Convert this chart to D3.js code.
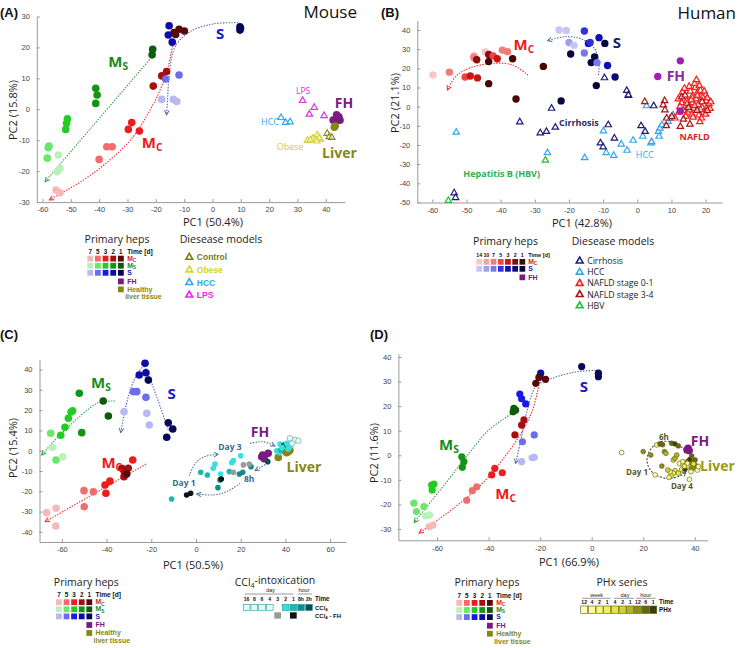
<!DOCTYPE html>
<html>
<head>
<meta charset="utf-8">
<script src="https://cdn.jsdelivr.net/npm/d3@7"></script>
<style>
  body { margin: 0; background: #fff; }
  text { font-family: "Open Sans", Arial, sans-serif; }
</style>
</head>
<body>
<svg id="fig" width="738" height="648"></svg>
<script>
// ---------- palettes ----------
// mouse primary heps, days 7,5,3,2,1
const mouseMcColors = ["#f7b8b8", "#f26c6c", "#ee1c1c", "#a50f0f", "#5a0808"]
const mouseMsColors = ["#b8f2b8", "#6ae66a", "#22cc22", "#149414", "#0c5c0c"]
const mouseSColors = ["#b8b8f4", "#6c6cee", "#1818e8", "#0c0ca8", "#08085a"]
const mouseDays = ["7", "5", "3", "2", "1"]
// human primary heps, days 14,10,7,5,3,2,1
const humanMcColors = ["#f9c6c6", "#f5a3a3", "#f07b7b", "#eb4545", "#cc1414", "#8a0b0b", "#4a0505"]
const humanSColors = ["#c6c6f5", "#a0a0f0", "#7878ec", "#3030e0", "#1010b5", "#0a0a7c", "#060640"]
const humanDays = ["14", "10", "7", "5", "3", "2", "1"]
const fhColor = "#7a1a80"
const liverColor = "#868616"

// ---------- panel A: mouse ----------
const aXTicks = [-60, -50, -40, -30, -20, -10, 0, 10, 20, 30, 40]
const aYTicks = [-30, -20, -10, 0, 10, 20, 30]
// [PC1, PC2, shade index]
const aMc = [[-13, 24.2, 4], [-11.8, 25.9, 4], [-9.9, 25.3, 4], [-13.6, 24.8, 4],
  [-17.9, 10.8, 3], [-16.2, 12.2, 3], [-20.9, 7.5, 3],
  [-29.7, -6.5, 2], [-28.5, -4.3, 2], [-25.8, -7, 2],
  [-37.3, -12.1, 1], [-35.4, -12.1, 1], [-40, -16.2, 1],
  [-55.2, -26.1, 0], [-53.8, -27, 0]]
const aMs = [[-21.1, 19.4, 4], [-21.3, 17.6, 4],
  [-41.2, 6.8, 3], [-40.7, 4.6, 3], [-41.2, 1.9, 3],
  [-51.2, -3.1, 2], [-51.5, -4.5, 2], [-51.8, -6.5, 2],
  [-57.7, -11.9, 1], [-58, -12.4, 1], [-58.3, -15.8, 1],
  [-54.4, -14.8, 0], [-53.8, -19.1, 0], [-54.8, -20.2, 0]]
const aS = [[9.7, 26.7, 4], [9.7, 25.6, 4], [9.9, 26.2, 4],
  [-15.3, 27, 3], [-15.6, 24, 3], [-14.2, 21.7, 3],
  [-11.8, 11.1, 1], [-16.5, 9.8, 1],
  [-17.9, 3.2, 0], [-13.8, 3.2, 0], [-12.6, 2.5, 0]]
const aFH = [[43.8, -1.8], [43.8, -2.9], [42.6, -3.5], [45, -3.5], [43.6, -3.9], [44.6, -2.4]]
const aLiver = [[43, -5.8], [43.3, -5.4]]
const aLPS = [[31.8, 2.8], [35.9, 0.6], [34.2, -1.6], [39.4, -2.1]]
const aHCC = [[24.2, -2.7], [25.8, -4.3], [27.4, -4.1]]
const aObese = [[33.5, -10.1], [35.4, -9.4], [37, -8.3], [38, -9.7], [36.2, -9.8], [34.5, -9.9], [37.6, -9.2], [36.8, -10.3]]
const aControl = [[40.5, -7.8], [41.2, -8.9], [42.1, -9.1]]

// ---------- panel B: human ----------
const bXTicks = [-60, -50, -40, -30, -20, -10, 0, 10, 20]
const bYTicks = [-50, -40, -30, -20, -10, 0, 10, 20, 30, 40]
const bMc = [[-59.8, 16.5, 0], [-55, 18, 2], [-50.4, 15.5, 3], [-48.9, 16, 4], [-46.8, 15, 4],
  [-47.8, 26.5, 1], [-47.8, 25.5, 2], [-44.5, 28.5, 0], [-43.2, 26.5, 4], [-43.5, 27.2, 5],
  [-43.5, 23.5, 6], [-42.2, 26.5, 3], [-41, 25, 4], [-39.5, 29.5, 2], [-38, 28.7, 2],
  [-47, 24.5, 5], [-36.5, 25, 6], [-43.5, 12, 6], [-35.5, 4, 6], [-27.5, 21, 6]]
const bS = [[-22.9, 40, 0], [-20.8, 39.7, 0], [-20, 33.5, 1], [-18.5, 32, 0],
  [-15.5, 39.5, 3], [-15.5, 28, 2], [-14.3, 33, 4], [-13.8, 33.5, 3], [-11.2, 36, 4],
  [-9.5, 33, 6], [-19.5, 27.5, 6], [-13.5, 23, 6], [-12.5, 26, 6], [-11.8, 23, 2],
  [-8.7, 21.5, 4], [-6.5, 15.5, 5], [-12, 11, 6], [-22.3, 3, 6]]
const bFH = [[6, 15.7], [12.6, 23.9], [12.6, -2.3]]
const bCirrhosis = [[-25.1, -0.9], [-34.4, -8], [-24, -10.8], [-28.4, -13.7], [-26.6, -13],
  [-9.6, 15], [-3.1, 8.4], [-2.6, 5.8], [-8.5, -9.5], [-6.7, -16.5], [-10.8, -19], [-10, -21],
  [1.1, -10], [2.3, -13], [4.8, 0.4], [-2.6, 6.1], [-53.6, -45], [-53.2, -47.5]]
const bHCC = [[-53, -13.4], [-26.3, -24.1], [-15.4, -26.7], [-9.9, -12.7], [-9.1, -24], [-6.9, -25.5],
  [-4.7, -19.6], [-3, -22.8], [-1.2, -17.6], [1.6, -15.5], [4, -19], [2.7, 0.4], [6.2, -13],
  [6.4, -15.5], [6.6, -11.3], [9, -7.8], [9.6, -6.1], [10.5, -4.3], [4.2, -18.3], [7.2, -9.5]]
const bNafld01 = [[12, 4], [13, 2], [12.5, 0], [13.5, -2], [14.5, 3], [15, 0.5], [14.8, -3], [15.5, 8],
  [16, 5], [16.2, 2], [16.5, -1], [16, -4], [17, 10], [17.5, 7], [17.2, 4], [17.8, 1], [18, -4.5],
  [18.5, 8.5], [18.7, 5.5], [19, -0.5], [19.5, -3], [20, 6], [20.2, 3], [20.5, 0], [21, 1.5],
  [16.8, 12], [17.3, 14], [13.2, 7.5], [15.2, 10.5], [18.2, 11], [19.6, 8], [12.2, -3], [13.8, 9.5],
  [14.2, -5], [16.3, -5.5], [18.8, -6], [20, -4], [21.3, -1], [15.8, 3.5], [17.6, 5.8], [19.2, 4.8],
  [14.6, 1.5], [16.8, 0.5], [18.5, -1.5], [15.3, -1.8], [20.5, 4.5], [21.5, 2.5], [18.3, -7.9], [11, -6]]
const bNafld34 = [[2.2, 2.6], [8, 3.1], [7.6, 0.9], [8.1, -1.7], [8.6, -6], [8.5, -10], [12.6, -10.4],
  [15.4, -9.2], [13.5, -6.6], [10.1, -5.2], [13, 5], [15, -0.5], [17.5, -2], [19, 2.5], [14, 6], [20.5, -2]]
const bHBV = [[-26.9, -28], [-55.3, -49]]

// ---------- panel C: mouse + CCl4 ----------
const cXTicks = [-60, -40, -20, 0, 20, 40, 60]
const cYTicks = [-40, -30, -20, -10, 0, 10, 20, 30, 40]
const cMs = [[-41.5, 24.5, 4], [-39.2, 17.1, 4], [-52.2, 28.3, 3], [-51.1, 8.9, 3],
  [-55.2, 19.7, 2], [-55.9, 19.1, 2], [-57.1, 16, 2], [-58.6, 11.5, 2], [-60.5, 7.6, 2],
  [-65, 8.6, 1], [-62.6, -4.6, 1], [-64.2, 1.7, 0], [-59.6, -3, 0]]
const cS = [[-22.8, 43.1, 3], [-22.4, 38.4, 3], [-25.4, 37.3, 3], [-21.3, 34.8, 4],
  [-28, 29.1, 1], [-26.5, 29.1, 1], [-22.4, 26.3, 1],
  [-32.2, 19.2, 0], [-22, 18.4, 0], [-20.9, 12.7, 0],
  [-12.4, 13.8, 4], [-10.4, 10.7, 4], [-13.1, 6.6, 4]]
const cMc = [[-28.3, -4.6, 2], [-33.2, -8.7, 3], [-30.3, -8.7, 3], [-32.1, -10.3, 3], [-32.2, -12.8, 3],
  [-31, -11.5, 4], [-38.5, -15, 2], [-40.7, -16.9, 2], [-40.3, -21, 2],
  [-45.9, -20.2, 1], [-50.1, -19.7, 1], [-50, -27.6, 1],
  [-62.6, -28.4, 0], [-66.8, -30.5, 0], [-62.7, -37.1, 0]]
// CCl4 time series: 0 = day 16-4, 1 = day 2, 2 = day 1, 3 = 8h, 4 = 2h
const ccl4Colors = ["#e4fbfb", "#3adede", "#1cb6b6", "#128c8c", "#0a5050"]
const cCcl4 = [[-10.9, -23.8, 2], [2.1, -10.6, 2], [5.1, -12, 2], [7.7, -8.7, 1], [8.5, -6.6, 1],
  [11, -11.5, 1], [10.7, -14.4, 3], [9.8, -18.2, 3], [14.9, -10.3, 2], [16, -5.9, 1], [16.7, -4.9, 1],
  [20, -2.5, 1], [19.4, -11.5, 3], [20.9, -10.6, 3], [24.6, -7.9, 3], [32.1, -5.4, 4],
  [37.6, 3.3, 1], [39.4, 2.8, 4], [36.1, 0, 1], [37.3, -1, 1], [37.8, 0.3, 2], [40.6, 3.6, 1],
  [42, 2, 1], [41.2, 0.8, 1], [38.5, 1.5, 1], [42, 6.1, 0], [44.3, 5.3, 0], [45.8, 4.9, 0], [43, 3.5, 0]]
const ccl4FhColors = ["#9a9a9a", "#111111"]
const cCcl4Fh = [[-4.2, -21.8, 1], [-2.4, -21, 1], [11.3, -14, 1], [16.7, -10.6, 0], [21.2, -7, 0], [23.8, -6.6, 0]]
const cFH = [[29.4, -3], [30.5, -4], [32.3, -1.3], [29.8, -2.2]]
const cLiver = [[41.3, -0.5], [36.8, -3.3], [39.8, 0], [40.5, -1], [42, 0.2]]
const ccl4Times = ["16", "8", "6", "4", "3", "2", "1", "8h", "2h"]

// ---------- panel D: mouse + PHx ----------
const dXTicks = [-60, -40, -20, 0, 20, 40]
const dYTicks = [-30, -20, -10, 0, 10, 20, 30, 40]
const dMs = [[-30.2, 19.1, 4], [-29.5, 18.4, 4], [-30.5, 17.7, 4],
  [-50.4, -0.6, 3], [-49.6, -2.6, 3], [-50.2, -4.9, 3],
  [-62.1, -12.1, 2], [-61.9, -14.1, 2], [-61.2, -11.7, 2],
  [-69, -19.5, 1], [-68, -22.9, 1], [-65.1, -20.9, 1], [-64.4, -24.7, 0], [-62.9, -24.3, 0]]
const dS = [[-3.9, 36.1, 4], [2.6, 33.4, 4], [2.6, 32, 4],
  [-19.8, 33.4, 3], [-20.1, 32, 3], [-27.9, 24.9, 2], [-27.2, 23, 2], [-25.6, 20.9, 2],
  [-26.9, 5.5, 1], [-22.3, 8.3, 1], [-27.2, -2.6, 0], [-23.1, -1, 0], [-22.3, -0.8, 0]]
const dMc = [[-21.7, 29.3, 4], [-17.9, 30.9, 4], [-20.5, 31.7, 4],
  [-26.3, 14.4, 3], [-27.2, 12.3, 3], [-29.8, 8.3, 3],
  [-37.6, -5.3, 2], [-38.8, -8, 2], [-34.7, -7.1, 2],
  [-44.6, -12.8, 1], [-46.3, -14.4, 1], [-48.5, -18.3, 1],
  [-63.1, -29.1, 0], [-61.6, -28.4, 0]]
// PHx series: 12,4,2,1 week / 4,2,1 day / 12,6,1 hour
const phxColors = ["#fdfdb8", "#fbfb98", "#f6f67a", "#f0f05a", "#e6e63c", "#d4d42a", "#b4b420", "#8e8e18", "#666610", "#3c3c08"]
const phxTimes = ["12", "4", "2", "1", "4", "2", "1", "12", "6", "1"]
const dPhx = [[11.6, 1.1, 0], [20, 1.5, 7], [22.9, 0.1, 7], [27.2, -4.4, 7], [25.2, 4.2, 2], [26.5, 4.6, 8],
  [27.5, 4.3, 8], [28.2, 1.5, 7], [28.8, 0.8, 6], [31, 4.9, 8], [32.3, 4.6, 9], [33.6, 3.8, 8],
  [31.7, -1.9, 5], [32.3, -1.2, 6], [34, -3.3, 1], [35.5, -3.9, 2], [37.1, -3.3, 1], [32.3, -6.3, 4],
  [31.7, -7.3, 3], [30.8, -8.4, 3], [33.6, -7.3, 4], [30.4, -6.7, 2], [34.9, -5.7, 3], [37.9, -9.8, 0],
  [24.6, -8, 0], [38.5, -6.7, 1], [41, -6, 0], [41.4, -4.6, 1], [40.1, -1.9, 8], [38.1, -1.6, 9],
  [38.8, -0.3, 8], [33, 0.1, 6], [35.3, -2.6, 2], [36.2, -5.7, 9], [30, -9, 2], [29.5, -6, 5],
  [36, -4.5, 3], [39.5, -3.5, 4]]
const dFH = [[37.4, 2.8], [37.8, 1.9], [37, 2.2]]
const dLiver = [[37.5, -2.6], [39.4, -3.3], [40.5, -4.6], [38.8, -5.3]]

// ============================================================
const svg = d3.select("#fig")
const defs = svg.append("defs")

function marker(id, color) {
  defs.append("marker")
    .attr("id", id)
    .attr("viewBox", "0 0 8 8")
    .attr("refX", 7).attr("refY", 4)
    .attr("markerWidth", 6).attr("markerHeight", 6)
    .attr("markerUnits", "userSpaceOnUse")
    .attr("orient", "auto")
    .append("path")
    .attr("d", "M1,1 L7,4 L1,7")
    .attr("fill", "none")
    .attr("stroke", color)
    .attr("stroke-width", 1.3)
}
marker("arGreen", "#2a9a4a")
marker("arRed", "#ee2a2a")
marker("arBlue", "#4a6aaa")
marker("arGrey", "#555")

function panel(c) {
  const x = d3.scaleLinear().domain(c.xDomain).range(c.xRange)
  const y = d3.scaleLinear().domain(c.yDomain).range(c.yRange)
  const g = svg.append("g")

  g.append("g")
    .attr("transform", `translate(0,${c.yRange[0]})`)
    .call(d3.axisBottom(x).tickValues(c.xTicks).tickFormat(d => d).tickSizeInner(-3).tickSizeOuter(0).tickPadding(5))
  g.append("g")
    .attr("transform", `translate(${c.xRange[0]},0)`)
    .call(d3.axisLeft(y).tickValues(c.yTicks).tickFormat(d => d).tickSizeInner(-3).tickSizeOuter(0).tickPadding(7))

  g.selectAll(".domain, .tick line").attr("stroke", "#9a9a9a")
  g.selectAll(".tick text")
    .attr("fill", "#444")
    .style("font-size", "7.5px")
    .style("font-family", "'Liberation Sans', Arial, sans-serif")

  g.append("text")
    .attr("x", c.xTitle[0]).attr("y", c.xTitle[1])
    .attr("text-anchor", "middle")
    .attr("fill", "#222")
    .style("font-size", "11px")
    .text(c.xLabel)
  g.append("text")
    .attr("transform", `translate(${c.yTitle[0]},${c.yTitle[1]}) rotate(-90)`)
    .attr("text-anchor", "middle")
    .attr("fill", "#222")
    .style("font-size", "11px")
    .text(c.yLabel)

  g.append("text")
    .attr("x", c.letter[0]).attr("y", c.letter[1])
    .attr("fill", "#111")
    .style("font-size", "13px")
    .style("font-weight", "bold")
    .style("font-family", "'Liberation Sans', Arial, sans-serif")
    .text(c.letterText)

  return { g, x, y }
}

function dots(p, data, colorFn, r, stroke) {
  p.g.append("g").selectAll("circle")
    .data(data)
    .join("circle")
    .attr("cx", d => p.x(d[0]))
    .attr("cy", d => p.y(d[1]))
    .attr("r", r)
    .attr("fill", colorFn)
    .attr("stroke", stroke || "none")
    .attr("stroke-width", stroke ? 0.6 : 0)
}

const tri = d3.symbol().type(d3.symbolTriangle).size(18)

function triangles(p, data, color) {
  p.g.append("g").selectAll("path")
    .data(data)
    .join("path")
    .attr("d", tri)
    .attr("transform", d => `translate(${p.x(d[0])},${p.y(d[1])})`)
    .attr("fill", "#fff")
    .attr("fill-opacity", 0.6)
    .attr("stroke", color)
    .attr("stroke-width", 1.2)
}

function arrow(p, pts, color, markerId, dash) {
  const line = d3.line()
    .x(d => p.x(d[0]))
    .y(d => p.y(d[1]))
    .curve(d3.curveCatmullRom.alpha(0.5))
  p.g.append("path")
    .attr("d", line(pts))
    .attr("fill", "none")
    .attr("stroke", color)
    .attr("stroke-width", 1.1)
    .attr("stroke-dasharray", dash || "1.4,1.4")
    .attr("marker-end", `url(#${markerId})`)
}

function label(p, pos, txt, color, size, opts = {}) {
  const t = p.g.append("text")
    .attr("x", p.x(pos[0]))
    .attr("y", p.y(pos[1]))
    .attr("text-anchor", opts.anchor || "middle")
    .attr("dy", "0.35em")
    .attr("fill", color)
    .style("font-size", size + "px")
    .style("font-weight", opts.weight || "bold")
  t.append("tspan").text(txt)
  if (opts.sub) {
    t.append("tspan").attr("dy", "0.3em").style("font-size", (size * 0.68) + "px").text(opts.sub)
  }
  return t
}

// ---------- legends ----------
const legFont = "'Liberation Sans', Arial, sans-serif"

function smallText(x, y, txt, color, size, weight, anchor) {
  return svg.append("text")
    .attr("x", x).attr("y", y)
    .attr("text-anchor", anchor || "start")
    .attr("fill", color)
    .style("font-size", size + "px")
    .style("font-weight", weight || "bold")
    .style("font-family", legFont)
    .text(txt)
}

function title(x, y, txt) {
  return svg.append("text")
    .attr("x", x).attr("y", y)
    .attr("text-anchor", "middle")
    .attr("fill", "#222")
    .style("font-size", "10.5px")
    .text(txt)
}

// primary heps legend: rows of colour squares, then FH and healthy liver under the last column
function hepsLegend(x0, y0, step, size, days, rows, extra, headSize) {
  const n = days.length
  days.forEach((d, i) => smallText(x0 + i * step + size / 2, y0 - 2.2, d, "#111", headSize, "bold", "middle"))
  smallText(x0 + n * step + 1.5, y0 - 2.2, "Time [d]", "#111", headSize + 0.3)
  rows.forEach((r, j) => {
    const yy = y0 + j * (size + 1.3)
    r.colors.forEach((c, i) => {
      svg.append("rect").attr("x", x0 + i * step).attr("y", yy)
        .attr("width", size).attr("height", size).attr("fill", c)
    })
    const t = smallText(x0 + n * step + 1.5, yy + size - 0.8, r.name, r.text, 6.8)
    if (r.sub) t.append("tspan").attr("dy", "0.25em").style("font-size", "4.8px").text(r.sub)
  })
  let yy = y0 + rows.length * (size + 1.3) + 1.5
  extra.forEach(e => {
    svg.append("rect").attr("x", x0 + (n - 1) * step).attr("y", yy)
      .attr("width", size).attr("height", size).attr("fill", e.color)
    smallText(x0 + n * step + 1.5, yy + size - 0.5, e.name, e.color, 7)
    if (e.name2) smallText(x0 + n * step - 0.5, yy + size + 7, e.name2, e.color, 7)
    yy += size + 2.2
  })
}

function triLegend(x0, y0, dy, items, size, weight) {
  items.forEach((it, i) => {
    const yy = y0 + i * dy
    svg.append("path").attr("d", d3.symbol().type(d3.symbolTriangle).size(20)())
      .attr("transform", `translate(${x0},${yy})`)
      .attr("fill", "#fff").attr("stroke", it.color).attr("stroke-width", 1.6)
    svg.append("text").attr("x", x0 + 7.5).attr("y", yy + 3)
      .attr("fill", it.text || it.color)
      .style("font-size", size + "px")
      .style("font-weight", weight)
      .style("font-family", weight === "bold" ? legFont : "'Open Sans', sans-serif")
      .text(it.name)
  })
}

const mouseRows = [
  { name: "M", sub: "C", colors: mouseMcColors, text: "#dd1a1a" },
  { name: "M", sub: "S", colors: mouseMsColors, text: "#1a8a1a" },
  { name: "S", colors: mouseSColors, text: "#1a1ab0" }]
const mouseExtra = [
  { name: "FH", color: fhColor },
  { name: "Healthy", name2: "liver tissue", color: liverColor }]

// ============================================================
// Panel A
const pA = panel({
  xDomain: [-62, 46.7], xRange: [36.8, 344.8],
  yDomain: [-30, 30], yRange: [202.1, 16.5],
  xTicks: aXTicks, yTicks: aYTicks,
  xLabel: "PC1 (50.4%)", xTitle: [213, 226],
  yLabel: "PC2 (15.8%)", yTitle: [17, 110],
  letter: [0, 17], letterText: "(A)"
})
arrow(pA, [[-21.5, 16.8], [-59.1, -23.4]], "#2a9a4a", "arGreen")
arrow(pA, [[-14, 21.3], [-15.6, 13.8], [-18.5, 6.2], [-22.7, -1.3], [-28, -8.9], [-36.2, -16.4], [-45.6, -22.9], [-57.6, -29.3]], "#ee2a2a", "arRed")
arrow(pA, [[9.1, 28], [0.3, 27.6], [-7.9, 25.1], [-13.2, 20.2], [-15.2, 11.6], [-15.8, 4.1], [-16.2, -1.8]], "#4a6aaa", "arBlue")
dots(pA, aMs, d => mouseMsColors[d[2]], 3.8)
dots(pA, aMc, d => mouseMcColors[d[2]], 3.8)
dots(pA, aS, d => mouseSColors[d[2]], 3.8)
triangles(pA, aLPS, "#dd33dd")
triangles(pA, aHCC, "#33a8ee")
triangles(pA, aObese, "#d4d430")
triangles(pA, aControl, "#8a8a20")
dots(pA, aFH, () => fhColor, 3.8)
dots(pA, aLiver, () => liverColor, 3.8)
label(pA, [-33.3, 15.3], "M", "#1a8a1a", 15, { sub: "S" })
label(pA, [-21.3, -10.9], "M", "#ee1a1a", 15, { sub: "C" })
label(pA, [2.7, 24.3], "S", "#1a1ac8", 15)
label(pA, [32, 5.9], "LPS", "#dd33dd", 8.5, { weight: "normal" })
label(pA, [20.3, -4.1], "HCC", "#33a8ee", 9, { weight: "normal" })
label(pA, [46.4, 1.9], "FH", fhColor, 14)
label(pA, [27.4, -12.2], "Obese", "#d0d030", 9, { weight: "normal" })
label(pA, [44.8, -14.1], "Liver", "#868616", 14)
svg.append("text").attr("x", 357).attr("y", 18).attr("text-anchor", "end")
  .attr("fill", "#111").style("font-size", "17px").text("Mouse")

// Panel B
const pB = panel({
  xDomain: [-64.4, 24.8], xRange: [417.3, 722],
  yDomain: [-50, 44.9], yRange: [202.5, 20.6],
  xTicks: bXTicks, yTicks: bYTicks,
  xLabel: "PC1 (42.8%)", xTitle: [582, 227],
  yLabel: "PC2 (21.1%)", yTitle: [399, 103],
  letter: [381, 17], letterText: "(B)"
})
arrow(pB, [[-32, 16.5], [-36.6, 21.8], [-42.4, 22.6], [-49.3, 20], [-53.2, 15.7], [-55.6, 8.7]], "#ee2a2a", "arRed")
arrow(pB, [[-11.4, 16.5], [-11.2, 23.5], [-12.6, 30.5], [-16.1, 35.2], [-21, 36.5], [-26.3, 34.4]], "#4a6aaa", "arBlue")
dots(pB, bMc, d => humanMcColors[d[2]], 3.7)
dots(pB, bS, d => humanSColors[d[2]], 3.7)
triangles(pB, bHCC, "#33a8ee")
triangles(pB, bCirrhosis, "#1c1c78")
triangles(pB, bNafld01, "#ee2222")
triangles(pB, bNafld34, "#a81414")
triangles(pB, bHBV, "#22c030")
dots(pB, bFH, () => "#a020b0", 3.7)
label(pB, [-33.2, 32.2], "M", "#ee1a1a", 15, { sub: "C" })
label(pB, [-6, 33.2], "S", "#1c1c6a", 15)
label(pB, [11.3, 16], "FH", "#8a2aa0", 14)
label(pB, [-17.1, -8.7], "Cirrhosis", "#2a2a70", 9)
label(pB, [16.8, -15.6], "NAFLD", "#dd2222", 9)
label(pB, [2.2, -25.2], "HCC", "#33a8ee", 9, { weight: "normal" })
label(pB, [-39.7, -35.3], "Hepatitis B (HBV)", "#2ab050", 9)
svg.append("text").attr("x", 736).attr("y", 19).attr("text-anchor", "end")
  .attr("fill", "#111").style("font-size", "17px").text("Human")

// Panel C
const pC = panel({
  xDomain: [-70, 67], xRange: [39.5, 345.8],
  yDomain: [-45, 45], yRange: [542, 359.4],
  xTicks: cXTicks, yTicks: cYTicks,
  xLabel: "PC1 (50.5%)", xTitle: [193, 569],
  yLabel: "PC2 (15.4%)", yTitle: [17, 448],
  letter: [0, 339], letterText: "(C)"
})
arrow(pC, [[-36.2, 24.5], [-43.7, 23.6], [-50.4, 18.4], [-57.8, 11], [-63.8, 4.4], [-69, -2.1]], "#2a9a4a", "arGreen")
arrow(pC, [[-12.4, 10.2], [-17.6, 26.6], [-21.3, 37.3], [-23.3, 41.4], [-27.3, 35.7], [-30.3, 26.6], [-33.7, 8.9]], "#4a6aaa", "arBlue")
arrow(pC, [[-22.4, -6.6], [-67.5, -35]], "#ee2a2a", "arRed")
arrow(pC, [[-3.1, -12.3], [0.3, -5.4], [4.8, -2.6], [10, -1.8]], "#4a6aaa", "arBlue")
arrow(pC, [[24.2, 3.6], [30.1, 4.4], [35.3, 2.3]], "#4a6aaa", "arBlue")
arrow(pC, [[33.1, -5.4], [26.4, -9.9]], "#4a6aaa", "arBlue")
arrow(pC, [[19.7, -16.1], [13.7, -20.2], [7.7, -21.8], [0.3, -21.3]], "#4a6aaa", "arBlue")
dots(pC, cMs, d => mouseMsColors[d[2]], 3.8)
dots(pC, cS, d => mouseSColors[d[2]], 3.8)
dots(pC, cMc, d => mouseMcColors[d[2]], 3.8)
dots(pC, cFH, () => fhColor, 3.8)
dots(pC, cLiver, () => liverColor, 3.8)
pC.g.append("g").selectAll("circle")
  .data(cCcl4)
  .join("circle")
  .attr("cx", d => pC.x(d[0]))
  .attr("cy", d => pC.y(d[1]))
  .attr("r", 2.8)
  .attr("fill", d => ccl4Colors[d[2]])
  .attr("stroke", d => d[2] === 0 ? "#70a8a8" : "none")
  .attr("stroke-width", 0.7)
dots(pC, cCcl4Fh, d => ccl4FhColors[d[2]], 2.8)
label(pC, [-42.5, 33.3], "M", "#1a8a1a", 15, { sub: "S" })
label(pC, [-37.7, -5.9], "M", "#ee1a1a", 15, { sub: "C" })
label(pC, [-10.9, 27.9], "S", "#1a1ac8", 15)
label(pC, [28.6, 9.4], "FH", fhColor, 14)
label(pC, [48.3, -7.9], "Liver", "#868616", 14)
label(pC, [15.2, 1.7], "Day  3", "#3a6a8a", 8.5)
label(pC, [-5.4, -15.8], "Day  1", "#3a6a8a", 8.5)
label(pC, [23.8, -14.1], "8h", "#3a6a8a", 8.5)

// Panel D
const pD = panel({
  xDomain: [-75, 45], xRange: [398.4, 707.7],
  yDomain: [-34.6, 41.3], yRange: [540.3, 353.8],
  xTicks: dXTicks, yTicks: dYTicks,
  xLabel: "PC1 (66.9%)", xTitle: [569, 566],
  yLabel: "PC2 (11.6%)", yTitle: [378, 453],
  letter: [370, 339], letterText: "(D)"
})
arrow(pD, [[-30.5, 17.3], [-39.9, 10.3], [-47.6, 0.8], [-56.7, -11.4], [-68.9, -27.4]], "#2a9a4a", "arGreen")
arrow(pD, [[-20.2, 29.8], [-23, 18.3], [-27.5, 8.8], [-34.7, -1.9], [-42.4, -11.4], [-52.8, -20.9], [-67, -31.7]], "#ee2a2a", "arRed")
arrow(pD, [[2.6, 34.6], [-6.2, 33.9], [-16.5, 30.9], [-21.7, 27.9], [-25, 18.3], [-27.5, 6.2], [-29.5, -3.3]], "#4a6aaa", "arBlue")
arrow(pD, [[36.2, 2.2], [31, 5.5], [25.5, 5], [22, 0.8], [21.6, -3.3], [23.9, -7.3], [29.1, -9.4], [34.3, -8.4], [36.6, -6.7]], "#444", "arGrey", "2,1.5")
dots(pD, dMs, d => mouseMsColors[d[2]], 3.6)
dots(pD, dS, d => mouseSColors[d[2]], 3.6)
dots(pD, dMc, d => mouseMcColors[d[2]], 3.6)
dots(pD, dFH, () => fhColor, 3.8)
dots(pD, dLiver, () => liverColor, 3.4)
dots(pD, dPhx, d => phxColors[d[2]], 2.4, "#555520")
label(pD, [-3, 27.8], "S", "#1a1ac8", 15)
label(pD, [-55.4, 4.2], "M", "#1a8a1a", 15, { sub: "S" })
label(pD, [-33.4, -15.7], "M", "#ee1a1a", 15, { sub: "C" })
label(pD, [42, 5.8], "FH", fhColor, 14)
label(pD, [48.8, -4.4], "Liver", "#9a9a10", 14)
label(pD, [28, 7.4], "6h", "#55552a", 8)
label(pD, [17.6, -6.8], "Day 1", "#55552a", 8)
label(pD, [35, -12.5], "Day 4", "#55552a", 8)

// ---------- legends ----------
// A
title(117, 243, "Primary heps")
hepsLegend(87.3, 255.7, 7.67, 5.8, mouseDays, mouseRows, mouseExtra, 6.3)
title(221, 243, "Diesease models")
triLegend(189.3, 257.3, 12.6, [
  { name: "Control", color: "#7a7a18" },
  { name: "Obese", color: "#d4d430" },
  { name: "HCC", color: "#33a8ee" },
  { name: "LPS", color: "#ee22ee" }], 8.5, "bold")

// B
title(505.5, 245, "Primary heps")
hepsLegend(476.3, 259, 7.2, 5.7, humanDays, [
  { name: "M", sub: "C", colors: humanMcColors, text: "#dd1a1a" },
  { name: "S", colors: humanSColors, text: "#1a1ab0" }],
  [{ name: "FH", color: fhColor }], 5.3)
title(613, 245, "Diesease models")
triLegend(579.7, 261, 11.2, [
  { name: "Cirrhosis", color: "#1c1c78", text: "#222" },
  { name: "HCC", color: "#33a8ee", text: "#222" },
  { name: "NAFLD stage 0-1", color: "#ee2222", text: "#222" },
  { name: "NAFLD stage 3-4", color: "#a81414", text: "#222" },
  { name: "HBV", color: "#22c030", text: "#222" }], 8.7, "normal")

// C
title(86.3, 585.5, "Primary heps")
hepsLegend(56, 599.3, 7.6, 5.8, mouseDays, mouseRows, mouseExtra, 6.3)
const ccTitle = title(275, 585.5, "CCl")
ccTitle.append("tspan").attr("dy", "0.3em").style("font-size", "7px").text("4")
ccTitle.append("tspan").attr("dy", "-0.3em").text("-intoxication")
smallText(270.7, 592, "day", "#222", 5.5, "normal", "middle")
smallText(304, 592, "hour", "#222", 5.5, "normal", "middle")
svg.append("line").attr("x1", 245).attr("x2", 293.3).attr("y1", 594).attr("y2", 594).attr("stroke", "#555").attr("stroke-width", 0.6)
svg.append("line").attr("x1", 297.7).attr("x2", 311.7).attr("y1", 594).attr("y2", 594).attr("stroke", "#555").attr("stroke-width", 0.6)
const ccl4Cols = [243.3, 251, 258.7, 266.4, 274.3, 282.3, 290, 297.7, 305.7]
const ccl4Fill = [ccl4Colors[0], ccl4Colors[0], ccl4Colors[0], ccl4Colors[0], null, ccl4Colors[1], ccl4Colors[2], ccl4Colors[3], ccl4Colors[4]]
ccl4Times.forEach((t, i) => smallText(ccl4Cols[i] + 3.3, 600.5, t, "#111", 5.1, "bold", "middle"))
ccl4Fill.forEach((c, i) => {
  if (!c) return
  svg.append("rect").attr("x", ccl4Cols[i]).attr("y", 604.3).attr("width", 6.7).attr("height", 6.3)
    .attr("fill", c).attr("stroke", "#2a9a9a").attr("stroke-width", 0.6)
})
svg.append("rect").attr("x", ccl4Cols[4]).attr("y", 612.3).attr("width", 6.7).attr("height", 6.3).attr("fill", ccl4FhColors[0])
svg.append("rect").attr("x", ccl4Cols[6]).attr("y", 612.3).attr("width", 6.7).attr("height", 6.3).attr("fill", ccl4FhColors[1])
smallText(315, 600.5, "Time", "#111", 6.3)
const cc1 = smallText(315, 609.5, "CCl", "#111", 6)
cc1.append("tspan").attr("dy", "0.25em").style("font-size", "4.3px").text("4")
const cc2 = smallText(315, 618, "CCl", "#111", 6)
cc2.append("tspan").attr("dy", "0.25em").style("font-size", "4.3px").text("4")
cc2.append("tspan").attr("dy", "-0.25em").text(" - FH")

// D
title(487, 585.5, "Primary heps")
hepsLegend(456.3, 600, 7.67, 5.8, mouseDays, mouseRows, mouseExtra, 6.3)
title(622, 585.5, "PHx series")
const phxCols = phxColors.map((c, i) => 580.7 + i * 7.67)
smallText(596.7, 596.5, "week", "#222", 5.5, "normal", "middle")
smallText(625, 596.5, "day", "#222", 5.5, "normal", "middle")
smallText(645.7, 596.5, "hour", "#222", 5.5, "normal", "middle")
svg.append("line").attr("x1", 582.3).attr("x2", 610.7).attr("y1", 598.3).attr("y2", 598.3).attr("stroke", "#555").attr("stroke-width", 0.6)
svg.append("line").attr("x1", 614).attr("x2", 634).attr("y1", 598.3).attr("y2", 598.3).attr("stroke", "#555").attr("stroke-width", 0.6)
svg.append("line").attr("x1", 636).attr("x2", 655.7).attr("y1", 598.3).attr("y2", 598.3).attr("stroke", "#555").attr("stroke-width", 0.6)
phxTimes.forEach((t, i) => smallText(phxCols[i] + 3.5, 604.3, t, "#111", 5.1, "bold", "middle"))
phxColors.forEach((c, i) => {
  svg.append("rect").attr("x", phxCols[i]).attr("y", 606).attr("width", 7).attr("height", 7.5)
    .attr("fill", c).attr("stroke", "#5a5a20").attr("stroke-width", 0.6)
})
smallText(659, 604, "Time", "#111", 6.3)
smallText(659, 612, "PHx", "#111", 6.3)
</script>
</body>
</html>
